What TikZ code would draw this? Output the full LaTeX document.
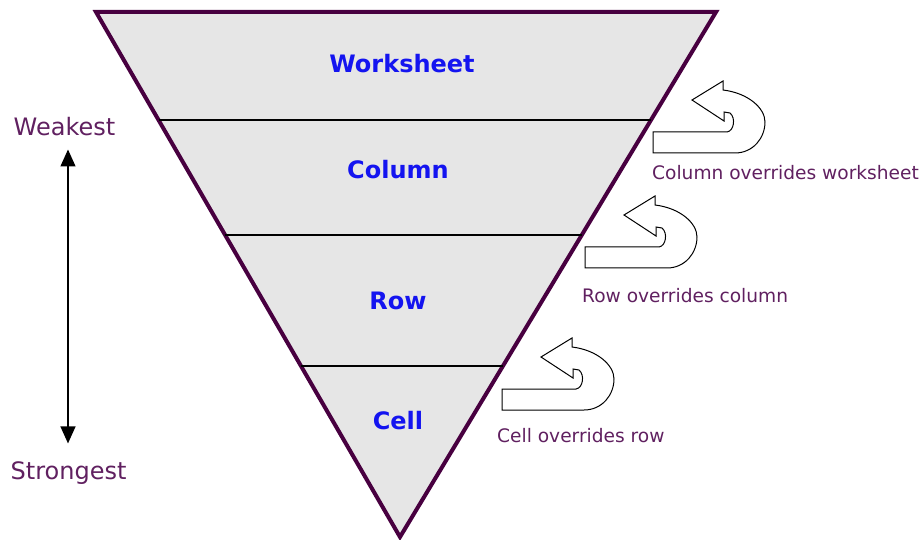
\documentclass[tikz,border=0pt]{standalone}
\usepackage{fontspec}
\setmainfont{DejaVu Sans}
\usetikzlibrary{arrows.meta}
\usetikzlibrary{calc}

\definecolor{edgepurple}{RGB}{72,0,64}
\definecolor{textpurple}{RGB}{96,32,96}
\definecolor{levelblue}{RGB}{20,20,240}
\definecolor{levelfill}{RGB}{230,230,230}

\tikzset{
	level/.style={text=levelblue, inner sep=0pt, font=\bfseries\fontsize{24}{24}\selectfont},
	rank/.style={text=textpurple, inner sep=0pt, font=\fontsize{24}{24}\selectfont},
	note/.style={text=textpurple, inner sep=0pt, anchor=west, font=\fontsize{18.6}{18.6}\selectfont},
	uturn/.pic={
		\draw[line width=1pt, fill=white] (0,0) -- (0,-21) -- (74,-21)
			.. controls (81,-22) and (83,-35) .. (77,-40) -- (71,-41) -- (71,-32)
			-- (39,-53) -- (70,-72) -- (70,-63)
			.. controls (95,-60) and (112,-45) .. (112,-31)
			.. controls (112,-15) and (100,0) .. (82,0) -- cycle;
	}
}

\begin{document}
\begin{tikzpicture}[x=1pt, y=-1pt]
	\useasboundingbox (0,0) rectangle (924,540);

	\coordinate (tl) at (96,12);
	\coordinate (tr) at (716,12);
	\coordinate (apex) at (400,537);

	% the inverted pyramid
	\draw[line width=4pt, edgepurple, fill=levelfill, line join=miter] (tl) -- (tr) -- (apex) -- cycle;
	\foreach \f in {0.2057, 0.4248, 0.6743}
		\draw[line width=1.3pt] ($(tl)!\f!(apex)$) -- ($(tr)!\f!(apex)$);

	\node[level] (worksheet) at (402,64) {Worksheet};
	\node[level] (column) at (398,170) {Column};
	\node[level] (row) at (398,301) {Row};
	\node[level] (cell) at (398,421) {Cell};

	% strength scale
	\node[rank] (weak) at (64.5,127) {Weakest};
	\node[rank] (strong) at (68.5,473) {Strongest};
	\path (weak.south -| 68,0) ++(0,13) coordinate (up);
	\path (strong.north -| 68,0) ++(0,-18) coordinate (down);
	\draw[line width=1.3pt, {Triangle[width=15pt,length=17pt]}-{Triangle[width=15pt,length=17pt]}] (up) -- (down);

	% overrides
	\pic at (653,153) {uturn};
	\pic at (585,268) {uturn};
	\pic at (502,410) {uturn};
	\node[note] (colnote) at (652,173) {Column overrides worksheet};
	\node[note] (rownote) at (582,296) {Row overrides column};
	\node[note] (cellnote) at (497,436) {Cell overrides row};
\end{tikzpicture}
\end{document}
